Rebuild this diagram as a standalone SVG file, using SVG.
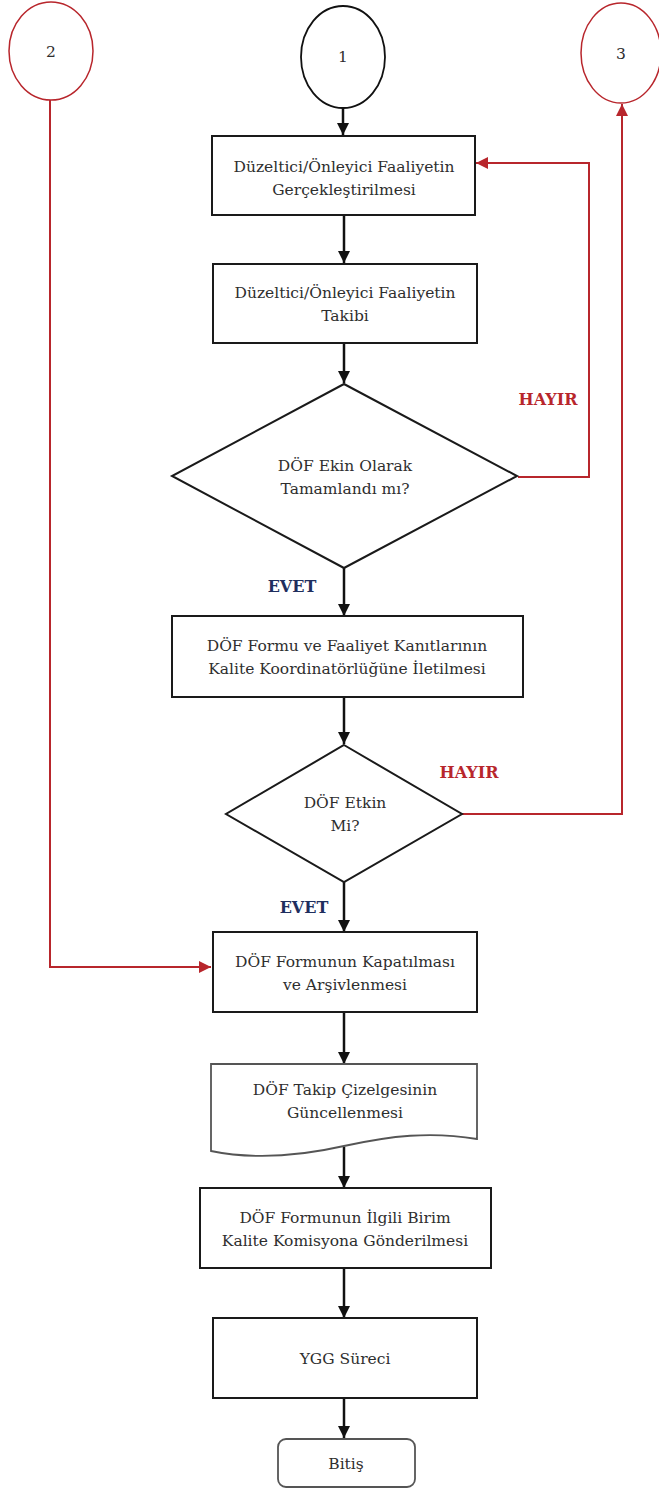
<svg xmlns="http://www.w3.org/2000/svg" width="659" height="1493" viewBox="0 0 659 1493">
<style>
.box{fill:#fff;stroke:#1a1a1a;stroke-width:2}
.t{font-family:"DejaVu Serif","Liberation Serif",serif;font-size:15.5px;fill:#2e2e2e;text-anchor:middle}
.c{stroke:#111;stroke-width:2.5;fill:none}
.r{stroke:#b8262c;stroke-width:2;fill:none}
.hayir{font-family:"DejaVu Serif","Liberation Serif",serif;font-size:16px;font-weight:bold;fill:#b8262c;text-anchor:middle}
.evet{font-family:"DejaVu Serif","Liberation Serif",serif;font-size:16px;font-weight:bold;fill:#1f2f5e;text-anchor:middle}
</style>
<defs>
<marker id="ab" viewBox="0 0 10 10" refX="10" refY="5" markerWidth="5" markerHeight="5" markerUnits="strokeWidth" orient="auto"><path d="M0,0 L10,5 L0,10 z" fill="#111"/></marker>
<marker id="ar" viewBox="0 0 10 10" refX="10" refY="5" markerWidth="6" markerHeight="6" markerUnits="strokeWidth" orient="auto"><path d="M0,0 L10,5 L0,10 z" fill="#b8262c"/></marker>
</defs>
<rect width="659" height="1493" fill="#fff"/>
<g id="connectors">
<path class="c" d="M343,108 V135" marker-end="url(#ab)"/>
<path class="c" d="M344,215 V263" marker-end="url(#ab)"/>
<path class="c" d="M344,343 V383" marker-end="url(#ab)"/>
<path class="c" d="M344,568 V616" marker-end="url(#ab)"/>
<path class="c" d="M344,697 V744" marker-end="url(#ab)"/>
<path class="c" d="M344,882 V932" marker-end="url(#ab)"/>
<path class="c" d="M344,1012 V1064" marker-end="url(#ab)"/>
<path class="c" d="M344,1147 V1188" marker-end="url(#ab)"/>
<path class="c" d="M344,1268 V1318" marker-end="url(#ab)"/>
<path class="c" d="M344,1398 V1438" marker-end="url(#ab)"/>
<path class="r" d="M518,477 H589 V163 H476" marker-end="url(#ar)"/>
<path class="r" d="M462,814 H622 V104" marker-end="url(#ar)"/>
<path class="r" d="M50,100 V967 H211" marker-end="url(#ar)"/>
<text class="hayir" x="548" y="405">HAYIR</text>
<text class="hayir" x="469" y="778">HAYIR</text>
<text class="evet" x="292" y="592">EVET</text>
<text class="evet" x="304" y="913">EVET</text>
</g>
<g id="c2"><ellipse cx="51" cy="51" rx="42" ry="49" fill="#fff" stroke="#b8262c" stroke-width="1.5"/><text class="t" x="51" y="57">2</text></g>
<g id="c1"><ellipse cx="343" cy="57" rx="42" ry="51" fill="#fff" stroke="#111" stroke-width="1.8"/><text class="t" x="343" y="62">1</text></g>
<g id="c3"><ellipse cx="621" cy="53" rx="40" ry="50" fill="#fff" stroke="#b8262c" stroke-width="1.5"/><text class="t" x="621" y="59">3</text></g>
<g id="n1"><rect class="box" x="212" y="136" width="263" height="79"/><text class="t" x="344" y="172">Düzeltici/Önleyici Faaliyetin</text><text class="t" x="344" y="195">Gerçekleştirilmesi</text></g>
<g id="n2"><rect class="box" x="213" y="264" width="264" height="79"/><text class="t" x="345" y="298">Düzeltici/Önleyici Faaliyetin</text><text class="t" x="345" y="321">Takibi</text></g>
<g id="d1"><polygon class="box" points="344,384 517,476 344,568 172,476"/><text class="t" x="345" y="471">DÖF Ekin Olarak</text><text class="t" x="345" y="494">Tamamlandı mı?</text></g>
<g id="n3"><rect class="box" x="172" y="616" width="351" height="81"/><text class="t" x="347" y="651">DÖF Formu ve Faaliyet Kanıtlarının</text><text class="t" x="347" y="674">Kalite Koordinatörlüğüne İletilmesi</text></g>
<g id="d2"><polygon class="box" points="344,745 462,814 344,882 226,814"/><text class="t" x="345" y="808">DÖF Etkin</text><text class="t" x="345" y="831">Mi?</text></g>
<g id="n4"><rect class="box" x="213" y="932" width="264" height="80"/><text class="t" x="345" y="967">DÖF Formunun Kapatılması</text><text class="t" x="345" y="990">ve Arşivlenmesi</text></g>
<g id="n5"><path d="M211,1064 H477 V1139 C430,1131 390,1136 344,1146 C300,1156 255,1160 211,1151 Z" fill="#fff" stroke="#555" stroke-width="1.8"/><text class="t" x="345" y="1095">DÖF Takip Çizelgesinin</text><text class="t" x="345" y="1118">Güncellenmesi</text></g>
<g id="n6"><rect class="box" x="200" y="1188" width="291" height="80"/><text class="t" x="345" y="1223">DÖF Formunun İlgili Birim</text><text class="t" x="345" y="1246">Kalite Komisyona Gönderilmesi</text></g>
<g id="n7"><rect class="box" x="213" y="1318" width="264" height="80"/><text class="t" x="345" y="1364">YGG Süreci</text></g>
<g id="n8"><rect x="278" y="1439" width="137" height="48" rx="8" fill="#fff" stroke="#555" stroke-width="1.8"/><text class="t" x="346" y="1469">Bitiş</text></g>
</svg>
